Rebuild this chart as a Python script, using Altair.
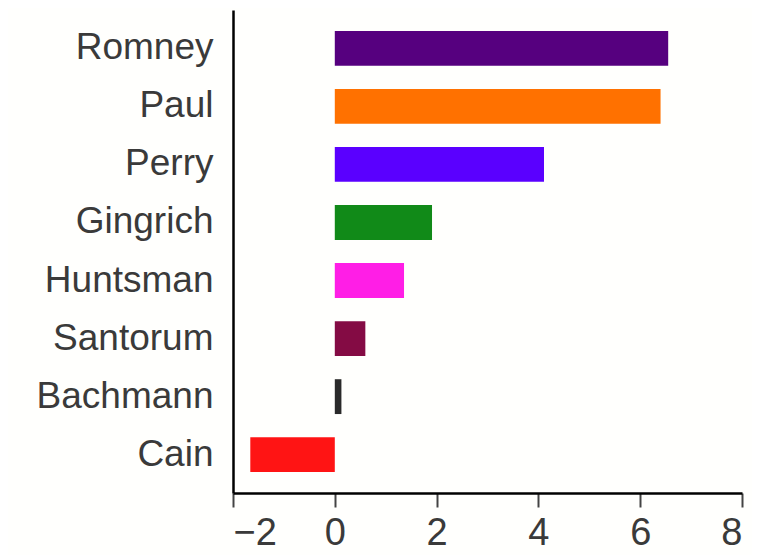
import altair as alt
import pandas as pd

candidates = ["Romney", "Paul", "Perry", "Gingrich", "Huntsman", "Santorum", "Bachmann", "Cain"]
values = [6.55, 6.40, 4.11, 1.91, 1.36, 0.60, 0.13, -1.66]
colors = ["#56007f", "#ff7100", "#5a00ff", "#118a18", "#ff1ee6", "#840b44", "#2a2a2a", "#ff1414"]
tick_values = [-2, 0, 2, 4, 6, 8]

df = pd.DataFrame({"candidate": candidates, "value": values})

chart = alt.Chart(df).mark_bar().encode(
    y=alt.Y(
        "candidate:N",
        sort=candidates,
        scale=alt.Scale(paddingInner=0.4, paddingOuter=0.36),
        axis=alt.Axis(
            title=None, ticks=False, labelFontSize=37, labelPadding=20,
            domainColor="black", domainWidth=2.5, labelColor="#3a3a3a",
            labelFont="Liberation Sans",
        ),
    ),
    x=alt.X(
        "value:Q",
        scale=alt.Scale(domain=[-2, 8], nice=False),
        axis=alt.Axis(
            title=None, values=tick_values, grid=False, tickSize=14, tickWidth=2,
            tickColor="#444444", domainColor="black", domainWidth=2.5,
            labelFontSize=38, labelPadding=7, labelColor="#3a3a3a",
            labelFont="Liberation Sans",
        ),
    ),
    color=alt.Color("candidate:N", scale=alt.Scale(domain=candidates, range=colors), legend=None),
).properties(
    width=509,
    height=483,
    background="#fffffd",
    padding={"left": 225, "top": 2, "right": 10, "bottom": 62},
    autosize=alt.AutoSizeParams(type="none"),
).configure_view(stroke=None)

chart.save("out.html", embed_options={"renderer": "svg", "actions": False})
